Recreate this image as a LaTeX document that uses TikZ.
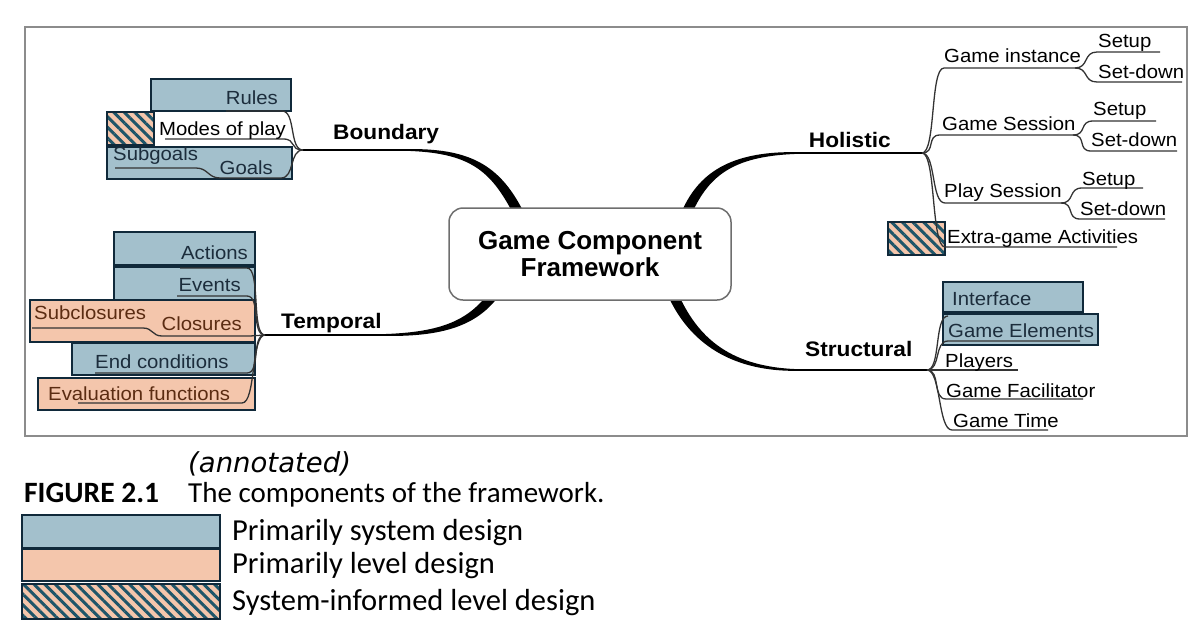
\documentclass[tikz,border=0pt]{standalone}
\usepackage{fontspec}
\setmainfont{Liberation Sans}
\newfontfamily\leaffont[FakeStretch=1.07]{Liberation Sans}
\newfontfamily\hubfont[FakeStretch=1.08]{Liberation Sans}
\newfontfamily\capfont{Carlito}
\newfontfamily\notefont{DejaVu Sans}
\usetikzlibrary{patterns.meta}

\definecolor{sysblue}{HTML}{A3C0CC}
\definecolor{lvlpeach}{HTML}{F4C6AC}
\definecolor{boxedge}{HTML}{10293A}
\definecolor{stripe}{HTML}{1E5569}
\definecolor{linegray}{HTML}{333333}
\definecolor{sysink}{HTML}{1C2D3C}
\definecolor{lvlink}{HTML}{5B2C12}
\definecolor{framegray}{HTML}{8C8C8C}
\definecolor{centeredge}{HTML}{6E6E6E}

\tikzset{
  sysbox/.style={fill=sysblue, draw=boxedge, line width=2.2pt},
  lvlbox/.style={fill=lvlpeach, draw=boxedge, line width=2.2pt},
  mixbox/.style={draw=boxedge, line width=2.2pt, preaction={fill=lvlpeach},
    pattern={Lines[angle=-45,distance=7.5pt,line width=3pt]}, pattern color=stripe},
  leaf/.style={font=\leaffont\fontsize{19}{21}\selectfont, inner sep=0pt},
  hublbl/.style={font=\hubfont\bfseries\fontsize{21}{24}\selectfont, inner sep=0pt},
  branch/.style={draw=linegray, line width=1.3pt},
  trunk/.style={fill=black},
  legendtxt/.style={font=\capfont\fontsize{30.5}{33}\selectfont, inner sep=0pt, anchor=base west},
}

\begin{document}
\begin{tikzpicture}[x=1pt,y=-1pt]
    \useasboundingbox (0,0) rectangle (1200,635);

    % marco
    \draw[framegray, line width=1.2pt] (25,27) rectangle (1187,436);

    % puntos de union de cada rama
    \coordinate (bnd) at (303,150);
    \coordinate (tmp) at (265,335);
    \coordinate (hol) at (922,153);
    \coordinate (str) at (927,370);

    % troncos gruesos desde el centro
    \fill[trunk] (522.4,209.6) .. controls (499.4,165.6) and (470,147.5) .. (405,149.2)
        -- (405,150.8) .. controls (470,152.5) and (490.6,170.4) .. (513.6,214.4) -- cycle;
    \fill[trunk] (501.1,292.8) .. controls (479.1,324.8) and (445,337.5) .. (380,335.8)
        -- (380,334.2) .. controls (445,332.5) and (470.9,319.2) .. (492.9,287.2) -- cycle;
    \fill[trunk] (691.6,214.0) .. controls (709.6,174.0) and (735,155.5) .. (800,153.8)
        -- (800,152.2) .. controls (735,150.5) and (700.4,170.0) .. (682.4,210.0) -- cycle;
    \fill[trunk] (675.6,288.0) .. controls (694.6,333.0) and (725,367.5) .. (800,369.2)
        -- (800,370.8) .. controls (725,372.5) and (685.4,337.0) .. (666.4,292.0) -- cycle;
    \draw[line width=1.6pt] (405,150) -- (bnd);
    \draw[line width=1.6pt] (380,335) -- (tmp);
    \draw[line width=1.6pt] (800,153) -- (hol);
    \draw[line width=1.6pt] (800,370) -- (str);

    % nodo central
    \node[draw=centeredge, line width=1.5pt, fill=white, rounded corners=14pt,
          minimum width=282pt, minimum height=92pt, align=center,
          font=\bfseries\fontsize{26}{27}\selectfont] (gcf) at (590,254)
          {Game Component\\Framework};

    % etiquetas de las ramas
    \node[hublbl, anchor=base west] (bndlbl) at (333,139) {Boundary};
    \node[hublbl, anchor=base west] (tmplbl) at (281,328) {Temporal};
    \node[hublbl, anchor=base east] (hollbl) at (891,147) {Holistic};
    \node[hublbl, anchor=base west] (strlbl) at (805,356) {Structural};

    % --- Boundary ---
    \draw[sysbox] (151,79) rectangle (291,111);
    \draw[mixbox] (107,112) rectangle (154,145);
    \draw[sysbox] (107,147) rectangle (292,179);
    \draw[branch] (226,111) -- (282,111) .. controls +(14,0) and +(-14,0) .. (bnd);
    \draw[branch] (165,139) -- (283,139) .. controls +(14,0) and +(-14,0) .. (bnd);
    \draw[branch] (115,168) -- (196,168) .. controls +(12,0) and +(-12,0) .. (220,178)
        -- (281,178) .. controls +(14,0) and +(-14,0) .. (bnd);
    \node[leaf, anchor=base east, text=sysink] (rules) at (278,104) {Rules};
    \node[leaf, anchor=base west] (modes) at (159,135) {Modes of play};
    \node[leaf, anchor=base west, text=sysink] (subgoals) at (113,160) {Subgoals};
    \node[leaf, anchor=base east, text=sysink] (goals) at (273,174) {Goals};

    % --- Temporal ---
    \draw[sysbox] (114,232) rectangle (255,265);
    \draw[sysbox] (114,267) rectangle (255,300);
    \draw[lvlbox] (30,300) rectangle (255,342);
    \draw[sysbox] (72,343) rectangle (255,375);
    \draw[lvlbox] (38,378) rectangle (255,410);
    \draw[branch] (180,268) -- (247,268) .. controls +(14,0) and +(-14,0) .. (tmp);
    \draw[branch] (177,296) -- (247,296) .. controls +(14,0) and +(-14,0) .. (tmp);
    \draw[branch] (32,328) -- (143,328) .. controls +(10,0) and +(-10,0) .. (162,336)
        -- (250,336) .. controls +(8,0) and +(-8,0) .. (tmp);
    \draw[branch] (95,373) -- (247,373) .. controls +(14,0) and +(-14,0) .. (tmp);
    \draw[branch] (78,403) -- (242,403) .. controls +(14,0) and +(-14,0) .. (tmp);
    \node[leaf, anchor=base east, text=sysink] (actions) at (248,259) {Actions};
    \node[leaf, anchor=base east, text=sysink] (events) at (241,291) {Events};
    \node[leaf, anchor=base west, text=lvlink] (subclos) at (34,319) {Subclosures};
    \node[leaf, anchor=base east, text=lvlink] (closures) at (242,330) {Closures};
    \node[leaf, anchor=base west, text=sysink] (endcond) at (95,368) {End conditions};
    \node[leaf, anchor=base west, text=lvlink] (evalfn) at (48,400) {Evaluation functions};

    % --- Holistic ---
    \draw[mixbox] (888,222) rectangle (945,255);
    \coordinate (ginst) at (1075,68);
    \coordinate (gsess) at (1073,135);
    \coordinate (psess) at (1061,203);
    \draw[branch] (hol) .. controls +(14,0) and +(-14,0) .. (944,68) -- (ginst);
    \draw[branch] (ginst) .. controls +(14,0) and +(-14,0) .. (1097,52) -- (1160,52);
    \draw[branch] (ginst) .. controls +(14,0) and +(-14,0) .. (1097,82) -- (1182,82);
    \draw[branch] (hol) .. controls +(14,0) and +(-14,0) .. (940,135) -- (gsess);
    \draw[branch] (gsess) .. controls +(14,0) and +(-14,0) .. (1093,121) -- (1156,121);
    \draw[branch] (gsess) .. controls +(14,0) and +(-14,0) .. (1091,151) -- (1177,151);
    \draw[branch] (hol) .. controls +(14,0) and +(-14,0) .. (945,203) -- (psess);
    \draw[branch] (psess) .. controls +(14,0) and +(-14,0) .. (1082,188) -- (1143,188);
    \draw[branch] (psess) .. controls +(14,0) and +(-14,0) .. (1080,219) -- (1165,219);
    \draw[branch] (hol) .. controls +(14,0) and +(-14,0) .. (945,247) -- (1117,247);
    \node[leaf, anchor=base west] (ginstlbl) at (944,62) {Game instance};
    \node[leaf, anchor=base west] (setupa) at (1098,47) {Setup};
    \node[leaf, anchor=base west] (setdowna) at (1098,78) {Set-down};
    \node[leaf, anchor=base west] (gsesslbl) at (942,130) {Game Session};
    \node[leaf, anchor=base west] (setupb) at (1093,115) {Setup};
    \node[leaf, anchor=base west] (setdownb) at (1091,146) {Set-down};
    \node[leaf, anchor=base west] (psesslbl) at (944,197) {Play Session};
    \node[leaf, anchor=base west] (setupc) at (1082,185) {Setup};
    \node[leaf, anchor=base west] (setdownc) at (1080,215) {Set-down};
    \node[leaf, anchor=base west] (extra) at (947,243) {Extra-game Activities};

    % --- Structural ---
    \draw[sysbox] (943,282) rectangle (1083,312);
    \draw[sysbox] (943,314) rectangle (1098,345);
    \draw[branch] (str) .. controls +(14,0) and +(-14,0) .. (948,316);
    \draw[branch] (str) .. controls +(14,0) and +(-14,0) .. (948,341) -- (1080,341);
    \draw[branch] (str) .. controls +(14,0) and +(-14,0) .. (945,370) -- (1018,370);
    \draw[branch] (str) .. controls +(14,0) and +(-14,0) .. (946,399) -- (1083,399);
    \draw[branch] (str) .. controls +(14,0) and +(-14,0) .. (952,430) -- (1048,430);
    \node[leaf, anchor=base west, text=sysink] (iface) at (952,305) {Interface};
    \node[leaf, anchor=base west, text=sysink] (gelem) at (948,337) {Game Elements};
    \node[leaf, anchor=base west] (players) at (945,367) {Players};
    \node[leaf, anchor=base west] (facil) at (946,397) {Game Facilitator};
    \node[leaf, anchor=base west] (gtime) at (953,427) {Game Time};

    % pie de figura
    \node[font=\notefont\itshape\fontsize{27.5}{30}\selectfont, anchor=base west, inner sep=0pt]
        (note) at (188,472) {(annotated)};
    \node[font=\capfont\bfseries\fontsize{29.5}{31}\selectfont, anchor=base west, inner sep=0pt]
        (figno) at (24,502) {FIGURE 2.1};
    \node[font=\capfont\fontsize{29}{31}\selectfont, anchor=base west, inner sep=0pt]
        (figcap) at (188,502) {The components of the framework.};

    % leyenda
    \draw[sysbox] (22,515) rectangle (220,548);
    \draw[lvlbox] (22,549) rectangle (220,581);
    \draw[mixbox] (22,584) rectangle (220,619);
    \node[legendtxt] (legsys) at (232,540) {Primarily system design};
    \node[legendtxt] (leglvl) at (232,573) {Primarily level design};
    \node[legendtxt] (legmix) at (232,610) {System-informed level design};
\end{tikzpicture}
\end{document}
